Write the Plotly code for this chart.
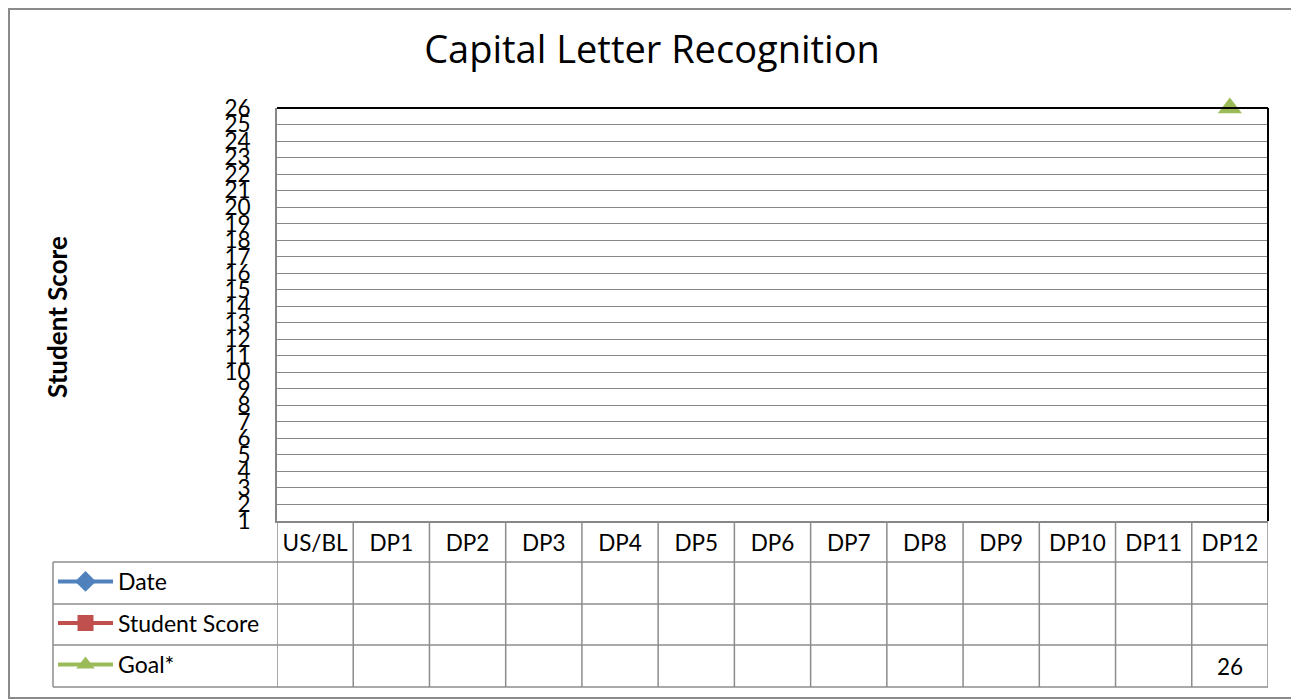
import plotly.graph_objects as go

# ---------------- data ----------------
categories = ["US/BL", "DP1", "DP2", "DP3", "DP4", "DP5", "DP6",
              "DP7", "DP8", "DP9", "DP10", "DP11", "DP12"]
date_values = [None, None, None, None, None, None, None,
               None, None, None, None, None, None]
student_scores = [None, None, None, None, None, None, None,
                  None, None, None, None, None, None]
goal_values = [None, None, None, None, None, None, None,
               None, None, None, None, None, 26]
y_tick_values = [1, 2, 3, 4, 5, 6, 7, 8, 9, 10, 11, 12, 13,
                 14, 15, 16, 17, 18, 19, 20, 21, 22, 23, 24, 25, 26]
series_names = ["Date", "Student Score", "Goal*"]
series_colors = ["#4F81BD", "#C0504D", "#9BBB59"]
series_symbols = ["diamond", "square", "triangle-up"]
series_values = [date_values, student_scores, goal_values]

# ---------------- layout helpers ----------------
W, H = 1299, 700
OFF = 8  # page body margin
def px(x):
    return (x - OFF) / W
def py(y):
    return 1 - (y - OFF) / H

plot_l, plot_r, plot_t, plot_b = 277, 1268, 108, 521
row_edges = [521, 562, 604, 645, 687]     # header row + 3 series rows
legend_l = 53
FONT = "Lato, Carlito, Calibri, sans-serif"
GRID = "#878787"
TXT = 22.5

fig = go.Figure()

legend_ids = ["legend", "legend2", "legend3"]
for i, (name, vals) in enumerate(zip(series_names, series_values)):
    fig.add_trace(go.Scatter(
        x=categories, y=vals, name=name, mode="lines+markers",
        line=dict(color=series_colors[i], width=4),
        marker=dict(symbol=series_symbols[i], size=21, color=series_colors[i]),
        cliponaxis=False, legend=legend_ids[i], showlegend=True,
        connectgaps=False,
    ))

shapes = []
line_style = dict(color="#8c8c8c", width=1.5)
for yv in row_edges[1:]:
    shapes.append(dict(type="line", xref="paper", yref="paper",
                       x0=px(legend_l), x1=px(plot_r), y0=py(yv), y1=py(yv),
                       line=line_style))
for i in range(len(categories) + 1):
    shapes.append(dict(type="line", xref="x", yref="paper",
                       x0=i - 0.5, x1=i - 0.5, y0=py(row_edges[0]), y1=py(row_edges[-1]),
                       line=line_style))
shapes.append(dict(type="line", xref="paper", yref="paper",
                   x0=px(legend_l), x1=px(legend_l), y0=py(row_edges[1]), y1=py(row_edges[-1]),
                   line=line_style))
shapes.append(dict(type="line", xref="paper", yref="paper",
                   x0=px(plot_l), x1=px(plot_r), y0=py(plot_t), y1=py(plot_t),
                   line=dict(color="black", width=2)))
shapes.append(dict(type="line", xref="paper", yref="paper",
                   x0=px(plot_r), x1=px(plot_r), y0=py(plot_t), y1=py(plot_b),
                   line=dict(color="black", width=2)))
shapes.append(dict(type="rect", xref="paper", yref="paper",
                   x0=px(9), x1=px(1295), y0=py(9), y1=py(698),
                   line=dict(color="#8a8a8a", width=2)))

annotations = []
for r, vals in enumerate(series_values):
    yc = (row_edges[r + 1] + row_edges[r + 2]) / 2
    for c, v in enumerate(vals):
        if v is not None:
            annotations.append(dict(x=categories[c], xref="x", y=py(yc), yref="paper",
                                    xanchor="center", yanchor="middle",
                                    text=str(v), showarrow=False,
                                    font=dict(family=FONT, size=TXT, color="black")))
annotations.append(dict(x=px(57), y=py(317), xref="paper", yref="paper",
                        xanchor="center", yanchor="middle",
                        text="<b>Student Score</b>", textangle=-90, showarrow=False,
                        font=dict(family=FONT, size=26, color="black")))

legends = {}
for r, lid in enumerate(legend_ids):
    yc = (row_edges[r + 1] + row_edges[r + 2]) / 2
    legends[lid] = dict(x=px(legend_l), y=py(yc - 1.5), xanchor="left", yanchor="middle",
                        bgcolor="rgba(0,0,0,0)", borderwidth=0, itemwidth=55,
                        font=dict(family=FONT, size=23, color="black"),
                        tracegroupgap=0, itemclick=False)

fig.update_layout(
    width=W, height=H,
    margin=dict(l=0, r=0, t=0, b=0, autoexpand=False),
    paper_bgcolor="white", plot_bgcolor="white",
    title=dict(text="Capital Letter Recognition", x=px(652), y=py(50),
               xanchor="center", yanchor="middle",
               font=dict(family="Open Sans, sans-serif", size=38, color="black")),
    xaxis=dict(domain=[px(plot_l), px(plot_r)], type="category",
               categoryorder="array", categoryarray=categories,
               range=[-0.5, len(categories) - 0.5], automargin=False,
               showgrid=False, zeroline=False, showline=True, linecolor=GRID, linewidth=2,
               ticks="", ticklabelstandoff=1,
               tickfont=dict(family=FONT, size=TXT, color="black")),
    yaxis=dict(domain=[py(plot_b), py(plot_t)], range=[1, 26], automargin=False,
               tickmode="array", tickvals=y_tick_values,
               ticktext=[str(v) for v in y_tick_values],
               showgrid=True, gridcolor=GRID, gridwidth=1,
               zeroline=False, showline=True, linecolor=GRID, linewidth=2,
               ticks="", ticklabelstandoff=20,
               tickfont=dict(family=FONT, size=TXT, color="black")),
    shapes=shapes, annotations=annotations,
    **legends,
)

fig.write_html("out.html")
